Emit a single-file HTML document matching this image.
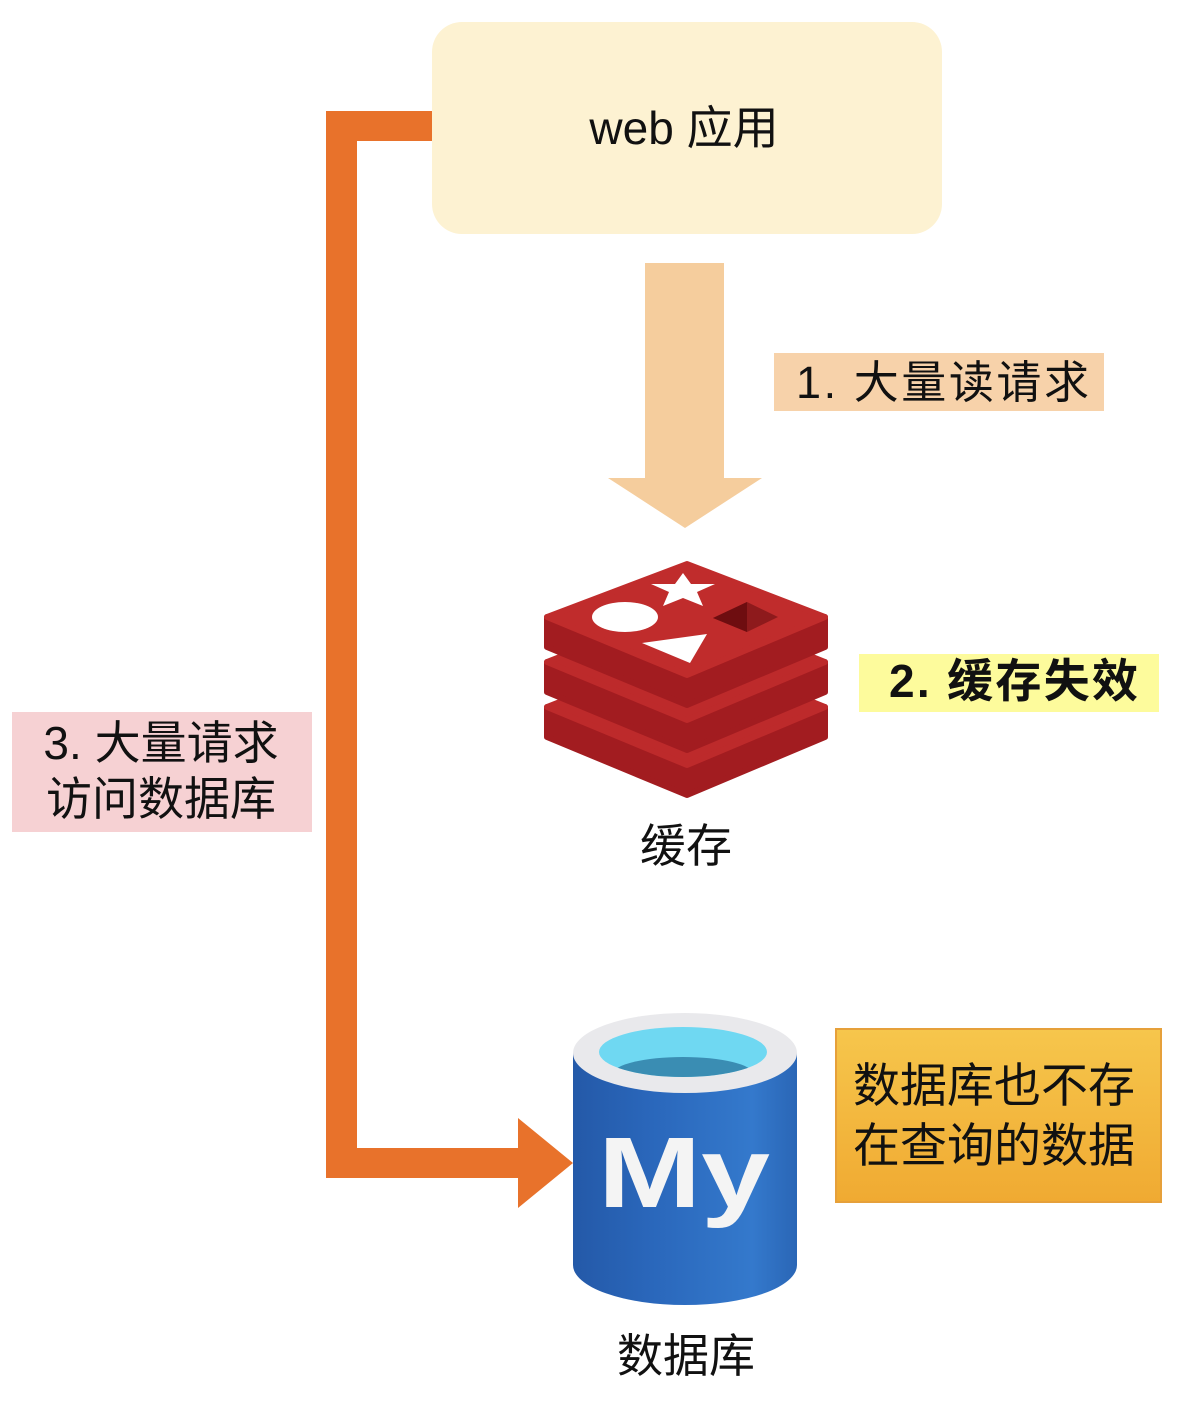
<!DOCTYPE html>
<html>
<head>
<meta charset="utf-8">
<style>
html,body{margin:0;padding:0;background:#ffffff;}
svg{display:block;}
text{font-family:"Liberation Sans","Noto Sans CJK SC",sans-serif;fill:#111;}
</style>
</head>
<body>
<svg width="1204" height="1402" viewBox="0 0 1204 1402" xmlns="http://www.w3.org/2000/svg">
  <defs>
    <linearGradient id="gold" x1="0" y1="0" x2="0" y2="1">
      <stop offset="0" stop-color="#f6c64c"/>
      <stop offset="1" stop-color="#f0aa32"/>
    </linearGradient>
    <linearGradient id="blue" x1="0" y1="0" x2="1" y2="0">
      <stop offset="0" stop-color="#2459a8"/>
      <stop offset="0.35" stop-color="#2a67bb"/>
      <stop offset="0.8" stop-color="#3479cc"/>
      <stop offset="1" stop-color="#2a66b6"/>
    </linearGradient>
    <clipPath id="innerClip">
      <ellipse cx="683" cy="1052" rx="84" ry="25"/>
    </clipPath>
  </defs>

  <!-- web app box -->
  <rect x="432" y="22" width="510" height="212" rx="30" ry="30" fill="#fdf2d2"/>
  <text x="684" y="144" font-size="46" text-anchor="middle">web 应用</text>

  <!-- orange connector -->
  <polygon fill="#e8722b" points="326,111 432,111 432,141 357,141 357,1148 518,1148 518,1118 573,1163 518,1208 518,1178 326,1178"/>

  <!-- peach arrow -->
  <polygon fill="#f5cd9d" points="645,263 724,263 724,478 762,478 685,528 608,478 645,478"/>

  <!-- label 1 -->
  <rect x="774" y="353" width="330" height="58" fill="#f7d2aa"/>
  <text x="796" y="398" font-size="45" textLength="293" lengthAdjust="spacing">1. 大量读请求</text>

  <!-- label 2 -->
  <rect x="859" y="654" width="300" height="58" fill="#fdfb9c"/>
  <text x="889" y="697" font-size="46" font-weight="bold" textLength="249" lengthAdjust="spacing">2. 缓存失效</text>

  <!-- label 3 -->
  <rect x="12" y="712" width="300" height="120" fill="#f6d1d3"/>
  <text x="161" y="759" font-size="46" text-anchor="middle">3. 大量请求</text>
  <text x="161" y="815" font-size="46" text-anchor="middle">访问数据库</text>

  <!-- label 4 -->
  <rect x="836" y="1029" width="325" height="173" fill="url(#gold)" stroke="#e6a03a" stroke-width="2"/>
  <text x="853" y="1102" font-size="47">数据库也不存</text>
  <text x="853" y="1162" font-size="47">在查询的数据</text>

  <!-- Redis icon -->
  <g stroke-linejoin="round">
    <polygon fill="#a21c20" stroke="#a21c20" stroke-width="6" points="547,707 687,765 825,707 825,737 687,795 547,737"/>
    <polygon fill="#bd2a2b" stroke="#bd2a2b" stroke-width="6" points="687,652 825,707 687,765 547,707"/>
    <polygon fill="#a21c20" stroke="#a21c20" stroke-width="6" points="547,662 687,720 825,662 825,692 687,750 547,692"/>
    <polygon fill="#bd2a2b" stroke="#bd2a2b" stroke-width="6" points="687,607 825,662 687,720 547,662"/>
    <polygon fill="#a21c20" stroke="#a21c20" stroke-width="6" points="547,617 687,675 825,617 825,647 687,705 547,647"/>
    <polygon fill="#c02c2c" stroke="#c02c2c" stroke-width="6" points="687,564 825,617 687,675 547,617"/>
  </g>
  <polygon fill="#ffffff" points="683,573 691,584 715,584 697,592 703,606 683,598 663,606 669,592 651,584 675,584"/>
  <ellipse cx="625" cy="617" rx="33" ry="15" fill="#ffffff"/>
  <polygon fill="#ffffff" points="642,643 707,634 690,663"/>
  <polygon fill="#8e1a1c" points="713,618 747,602 778,617 747,632"/>
  <polygon fill="#6e0d10" points="713,618 747,602 747,632"/>
  <text x="686" y="862" font-size="46" text-anchor="middle">缓存</text>

  <!-- MySQL cylinder -->
  <path d="M573,1053 L573,1265 A112,40 0 0 0 797,1265 L797,1053 Z" fill="url(#blue)"/>
  <ellipse cx="685" cy="1053" rx="112" ry="40" fill="#e9e9ec"/>
  <ellipse cx="683" cy="1052" rx="84" ry="25" fill="#6fd8f2"/>
  <g clip-path="url(#innerClip)">
    <ellipse cx="683" cy="1074" rx="70" ry="17" fill="#3a8db3"/>
  </g>
  <text x="598" y="1207" font-size="100" font-weight="bold" style="fill:#f4f4f4" textLength="172" lengthAdjust="spacingAndGlyphs">My</text>
  <text x="686" y="1372" font-size="46" text-anchor="middle">数据库</text>
</svg>
</body>
</html>
